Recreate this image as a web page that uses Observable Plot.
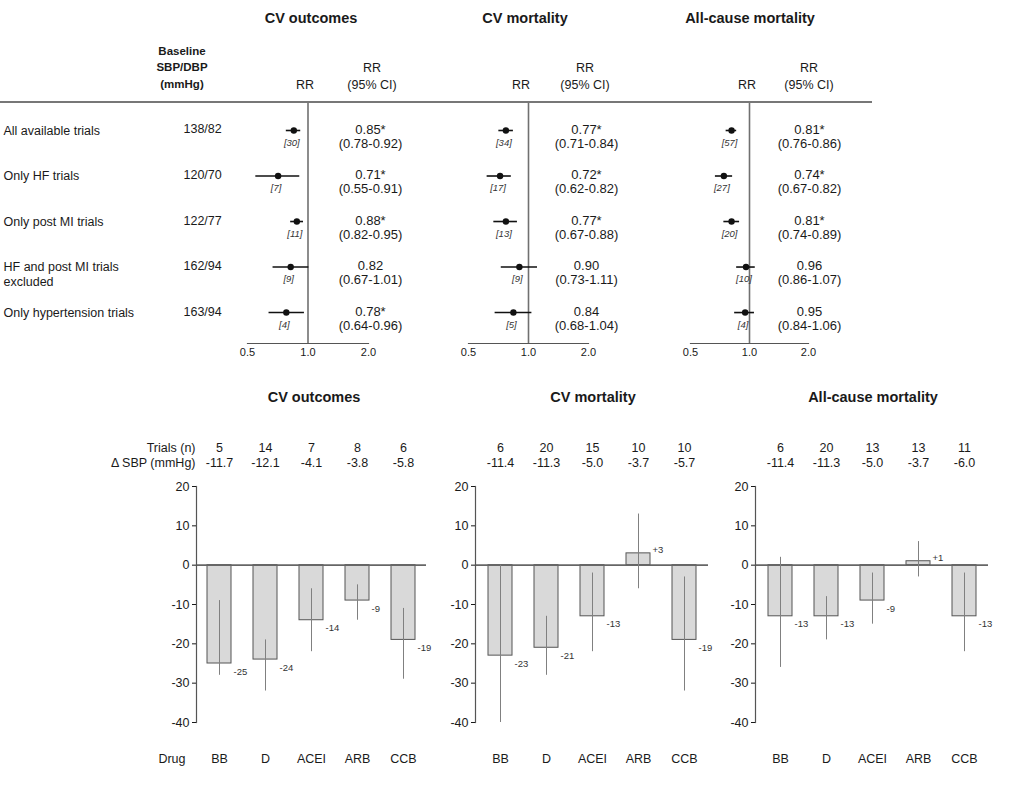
<!DOCTYPE html>
<html><head><meta charset="utf-8">
<script src="https://cdn.jsdelivr.net/npm/d3@7"></script>
<script src="https://cdn.jsdelivr.net/npm/@observablehq/plot@0.6"></script>
<style>
body{margin:0;background:#fff;}
#root{position:relative;width:1010px;height:800px;overflow:hidden;font-family:"Liberation Sans",Arial,Helvetica,sans-serif;color:#1a1a1a;}
.lab{position:absolute;white-space:nowrap;line-height:1;}
.pl{position:absolute;}
</style></head>
<body><div id="root"></div>
<script>
// ---------------- DATA ----------------
const subgroups = ["All available trials", "Only HF trials", "Only post MI trials", "HF and post MI trials\nexcluded", "Only hypertension trials"];
const baselineBP = ["138/82", "120/70", "122/77", "162/94", "163/94"];
const outcomeTitles = ["CV outcomes", "CV mortality", "All-cause mortality"];

// forest: CV outcomes
const rrCvOut = [0.85, 0.71, 0.88, 0.82, 0.78];
const loCvOut = [0.78, 0.55, 0.82, 0.67, 0.64];
const hiCvOut = [0.92, 0.91, 0.95, 1.01, 0.96];
const nCvOut  = [30, 7, 11, 9, 4];
// forest: CV mortality
const rrCvMort = [0.77, 0.72, 0.77, 0.90, 0.84];
const loCvMort = [0.71, 0.62, 0.67, 0.73, 0.68];
const hiCvMort = [0.84, 0.82, 0.88, 1.11, 1.04];
const nCvMort  = [34, 17, 13, 9, 5];
// forest: all-cause mortality
const rrAll = [0.81, 0.74, 0.81, 0.96, 0.95];
const loAll = [0.76, 0.67, 0.74, 0.86, 0.84];
const hiAll = [0.86, 0.82, 0.89, 1.07, 1.06];
const nAll  = [57, 27, 20, 10, 4];
const rrTicks = [0.5, 1, 2];

// bars
const drugClasses = ["BB", "D", "ACEI", "ARB", "CCB"];
const trialsCvOut = [5, 14, 7, 8, 6];
const dSbpCvOut   = [-11.7, -12.1, -4.1, -3.8, -5.8];
const effCvOut    = [-25, -24, -14, -9, -19];
const effLoCvOut  = [-28, -32, -22, -14, -29];
const effHiCvOut  = [-9, -19, -6, -5, -11];

const trialsCvMort = [6, 20, 15, 10, 10];
const dSbpCvMort   = [-11.4, -11.3, -5.0, -3.7, -5.7];
const effCvMort    = [-23, -21, -13, 3, -19];
const effLoCvMort  = [-40, -28, -22, -6, -32];
const effHiCvMort  = [0, -13, -2, 13, -3];

const trialsAll = [6, 20, 13, 13, 11];
const dSbpAll   = [-11.4, -11.3, -5.0, -3.7, -6.0];
const effAll    = [-13, -13, -9, 1, -13];
const effLoAll  = [-26, -19, -15, -3, -22];
const effHiAll  = [2, -8, -2, 6, -2];
const effTicks  = [20, 10, 0, -10, -20, -30, -40];

// ---------------- RENDER ----------------
const root = document.getElementById("root");
const FONT = '"Liberation Sans", Arial, Helvetica, sans-serif';

function label(text, x, y, {size = 12.5, weight = "normal", anchor = "middle"} = {}) {
  const d = document.createElement("div");
  d.className = "lab";
  d.textContent = text;
  d.style.left = x + "px";
  d.style.top = y + "px";
  d.style.fontSize = size + "px";
  d.style.fontWeight = weight;
  const tx = anchor === "middle" ? "-50%" : anchor === "end" ? "-100%" : "0";
  d.style.transform = `translate(${tx},-50%)`;
  root.appendChild(d);
}
function place(svg, left, top) {
  const w = document.createElement("div");
  w.className = "pl";
  w.style.left = left + "px";
  w.style.top = top + "px";
  w.appendChild(svg);
  root.appendChild(w);
}
const baseStyle = {background: "transparent", overflow: "visible", maxWidth: "none", fontFamily: FONT, fontSize: "12.5px", color: "#1a1a1a"};

// ---- top: forest plots ----
const forestSpecs = [
  {rr: rrCvOut, lo: loCvOut, hi: hiCvOut, n: nCvOut, left: 0, marginLeft: 247, xEnd: 368, dxText: 2, first: true},
  {rr: rrCvMort, lo: loCvMort, hi: hiCvMort, n: nCvMort, left: 420, marginLeft: 48, xEnd: 588, dxText: -2},
  {rr: rrAll, lo: loAll, hi: hiAll, n: nAll, left: 640, marginLeft: 50, xEnd: 808, dxText: 1}
];
forestSpecs.forEach(s => {
  const rows = subgroups.map((g, k) => ({g, row: k, rr: s.rr[k], lo: s.lo[k], hi: s.hi[k], n: s.n[k], base: baselineBP[k]}));
  const marginRight = 45;
  const width = s.xEnd - s.left + marginRight;
  const marks = [
    Plot.ruleX([1], {stroke: "#707070", strokeWidth: 1.6}),
    Plot.frame({anchor: "bottom", stroke: "#555", strokeWidth: 1.2}),
    Plot.axisX({ticks: rrTicks, tickFormat: d => d.toFixed(1), tickSize: 0, tickPadding: 5, fontSize: 11}),
    Plot.ruleY(rows, {y: "row", x1: "lo", x2: "hi", stroke: "#111", strokeWidth: 1.6}),
    Plot.dot(rows, {x: "rr", y: "row", r: 3.2, fill: "#111"}),
    Plot.text(rows, {x: "rr", y: "row", text: d => `[${d.n}]`, dy: 12, dx: -2, fontSize: 9.5, fontStyle: "italic", fill: "#333"}),
    Plot.text(rows, {y: "row", frameAnchor: "right", textAnchor: "middle", text: d => d.rr.toFixed(2) + (d.hi < 1 ? "*" : ""), dx: s.dxText, dy: -1, fontSize: 13}),
    Plot.text(rows, {y: "row", frameAnchor: "right", textAnchor: "middle", text: d => `(${d.lo.toFixed(2)}-${d.hi.toFixed(2)})`, dx: s.dxText, dy: 13, fontSize: 13})
  ];
  if (s.first) {
    marks.push(
      Plot.text(rows, {y: "row", frameAnchor: "left", text: "g", textAnchor: "start", lineAnchor: "top", dx: -244, dy: -6.5, lineHeight: 1.2, fontSize: 12.5}),
      Plot.text(rows, {y: "row", frameAnchor: "left", text: "base", dx: -64, dy: -1, fontSize: 12.5})
    );
  }
  const svg = Plot.plot({
    width, height: 363,
    marginLeft: s.marginLeft, marginRight, marginTop: 102, marginBottom: 20,
    x: {type: "log", domain: [0.5, 2]},
    y: {type: "linear", domain: [-0.615, 4.68], reverse: true, axis: null},
    style: baseStyle,
    marks
  });
  place(svg, s.left, 0);
});

// header line across the table
const hr = document.createElement("div");
hr.style.cssText = "position:absolute;left:0;top:101px;width:872px;height:1.5px;background:#777;";
root.appendChild(hr);

// top titles and headers
label(outcomeTitles[0], 311, 18, {size: 14.5, weight: "bold"});
label(outcomeTitles[1], 525, 18, {size: 14.5, weight: "bold"});
label(outcomeTitles[2], 750, 18, {size: 14.5, weight: "bold"});
label("Baseline", 182, 52, {size: 11.5, weight: "bold"});
label("SBP/DBP", 182, 68, {size: 11.5, weight: "bold"});
label("(mmHg)", 182, 85, {size: 11.5, weight: "bold"});
[[305, 372], [521, 585], [747, 809]].forEach(([a, b]) => {
  label("RR", a, 85, {size: 12.5});
  label("RR", b, 68, {size: 12.5});
  label("(95% CI)", b, 85, {size: 12.5});
});

// ---- bottom: bar charts ----
const barSpecs = [
  {trials: trialsCvOut, dsbp: dSbpCvOut, eff: effCvOut, lo: effLoCvOut, hi: effHiCvOut, left: 100, marginLeft: 96, xEnd: 426, first: true},
  {trials: trialsCvMort, dsbp: dSbpCvMort, eff: effCvMort, lo: effLoCvMort, hi: effHiCvMort, left: 420, marginLeft: 55, xEnd: 708},
  {trials: trialsAll, dsbp: dSbpAll, eff: effAll, lo: effLoAll, hi: effHiAll, left: 700, marginLeft: 55, xEnd: 988}
];
const fmtSigned = v => (v > 0 ? "+" : v < 0 ? "-" : "") + Math.abs(v);
barSpecs.forEach(s => {
  const rows = drugClasses.map((drug, k) => ({drug, trials: s.trials[k], dsbp: s.dsbp[k], eff: s.eff[k], lo: s.lo[k], hi: s.hi[k]}));
  const marginRight = 20;
  const width = s.xEnd - s.left + marginRight;
  const marks = [
    Plot.barY(rows, {x: "drug", y: "eff", fill: "#d9d9d9", stroke: "#555", strokeWidth: 1, insetLeft: 11, insetRight: 11}),
    Plot.ruleY([0], {stroke: "#666", strokeWidth: 1.6}),
    Plot.ruleX(rows, {x: "drug", y1: "lo", y2: "hi", stroke: "#808080", strokeWidth: 1}),
    Plot.frame({anchor: "left", stroke: "#555", strokeWidth: 1.2}),
    Plot.axisY({ticks: effTicks, tickFormat: d => (d < 0 ? "-" : "") + Math.abs(d), tickSize: 4, tickPadding: 3, fontSize: 12.5}),
    Plot.text(rows.filter(d => d.eff < 0), {x: "drug", y: "eff", text: d => fmtSigned(d.eff), dx: 14, dy: 8, textAnchor: "start", fontSize: 9.5, fill: "#333"}),
    Plot.text(rows.filter(d => d.eff >= 0), {x: "drug", y: "eff", text: d => fmtSigned(d.eff), dx: 14, dy: -3, textAnchor: "start", fontSize: 9.5, fill: "#333"}),
    Plot.text(rows, {x: "drug", frameAnchor: "top", text: d => String(d.trials), dy: -43, fontSize: 12.5}),
    Plot.text(rows, {x: "drug", frameAnchor: "top", text: d => (d.dsbp < 0 ? "-" : "") + Math.abs(d.dsbp).toFixed(1), dy: -28, fontSize: 12.5}),
    Plot.text(rows, {x: "drug", frameAnchor: "bottom", text: "drug", dy: 40, fontSize: 12.5})
  ];
  if (s.first) {
    marks.push(
      Plot.text(["Trials (n)"], {frameAnchor: "top-left", text: d => d, textAnchor: "end", dx: -1, dy: -43, fontSize: 12.5}),
      Plot.text(["\u0394 SBP (mmHg)"], {frameAnchor: "top-left", text: d => d, textAnchor: "end", dx: -1, dy: -28, fontSize: 12.5}),
      Plot.text(["Drug"], {frameAnchor: "bottom-left", text: d => d, textAnchor: "end", dx: -11, dy: 40, fontSize: 12.5})
    );
  }
  const svg = Plot.plot({
    width, height: 400,
    marginLeft: s.marginLeft, marginRight, marginTop: 106, marginBottom: 58,
    x: {domain: drugClasses, padding: 0, axis: null},
    y: {domain: [-40, 20]},
    style: baseStyle,
    marks
  });
  place(svg, s.left, 380);
});
label(outcomeTitles[0], 314, 397, {size: 14.5, weight: "bold"});
label(outcomeTitles[1], 593, 397, {size: 14.5, weight: "bold"});
label(outcomeTitles[2], 873, 397, {size: 14.5, weight: "bold"});
</script>
</body></html>
